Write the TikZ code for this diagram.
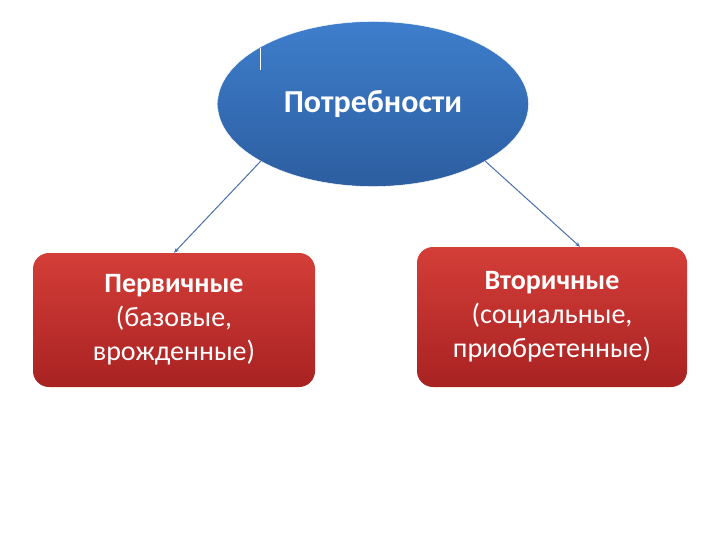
\documentclass[tikz,border=0pt]{standalone}
\usepackage{fontspec}
\setmainfont{Carlito}
\usetikzlibrary{shapes.geometric}
\usetikzlibrary{arrows.meta}
\usepackage{xcolor}
\definecolor{needtop}{RGB}{62,126,204}
\definecolor{needbot}{RGB}{44,94,160}
\definecolor{kindtop}{RGB}{212,62,56}
\definecolor{kindbot}{RGB}{168,34,34}
\definecolor{linkblue}{RGB}{74,110,170}

\begin{document}
\begin{tikzpicture}[x=1pt, y=-1pt, every node/.style={text=white, align=center},
        need/.style={ellipse, draw=white, top color=needtop, bottom color=needbot, minimum width=311pt, minimum height=165pt, inner sep=0pt, font=\fontsize{32}{38}\selectfont\bfseries},
        kind/.style={rounded corners=16pt, top color=kindtop, bottom color=kindbot, inner sep=0pt, font=\fontsize{28}{34}\selectfont},
        link/.style={draw=linkblue, line width=1pt, -{Stealth[length=5pt, width=4pt]}}]
            \useasboundingbox (0, 0) rectangle (720, 540);

            \node[need] (need) at (373, 104) {Потребности};
            \node[kind, minimum width=282pt, minimum height=134pt] (prim) at (174, 320) {\textbf{Первичные}\\(базовые,\\врожденные)};
            \node[kind, minimum width=270pt, minimum height=140pt] (sec) at (552, 317) {\textbf{Вторичные}\\(социальные,\\приобретенные)};
            \draw[white, line width=0.8pt] (260, 48) -- (260, 70);

            \draw[link] (need.207) -- (prim.north);
            \draw[link] (need.333) -- ([xshift=28pt]sec.north);
        \end{tikzpicture}
\end{document}
